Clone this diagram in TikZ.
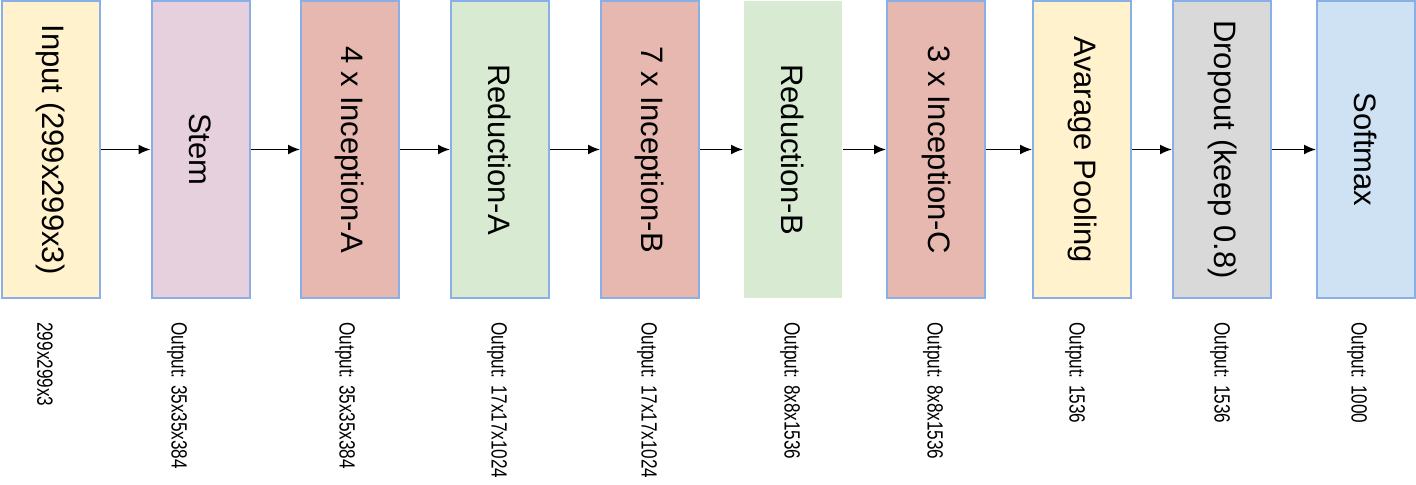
\documentclass[tikz,border=0pt]{standalone}
\usepackage{fontspec}
\setmainfont{Liberation Sans}
\usepackage{tikz}
\usetikzlibrary{arrows.meta}

\definecolor{edgeblue}{HTML}{8AAEE6}
\definecolor{inyellow}{HTML}{FFF2CC}
\definecolor{stempink}{HTML}{E6D0DE}
\definecolor{incred}{HTML}{E6B8AF}
\definecolor{redgreen}{HTML}{D9EAD3}
\definecolor{dropgrey}{HTML}{D9D9D9}
\definecolor{softblue}{HTML}{CFE2F3}

\newcommand{\outtext}[1]{\scalebox{0.78}[1]{#1}}

\begin{document}
\begin{tikzpicture}[x=0.5pt,y=-0.5pt,
        layer/.style={draw=edgeblue,line width=1pt,rectangle,minimum width=49pt,minimum height=148.5pt,
            inner sep=0pt,font=\fontsize{15.5}{18}\selectfont},
        outlabel/.style={rotate=-90,anchor=west,inner sep=0pt,font=\fontsize{11}{13}\selectfont},
        flow/.style={-{Latex[length=6pt,width=5pt]},line width=0.85pt}]

    \useasboundingbox (0,0) rectangle (1416,485);

    % layers
    \node[layer,fill=inyellow] (input) at (51,149.5) {\rotatebox{-90}{Input (299x299x3)}};
    \node[layer,fill=stempink] (stem) at (200.5,149.5) {\rotatebox{-90}{Stem}};
    \node[layer,fill=incred] (incA) at (350,149.5) {\rotatebox{-90}{4 x Inception-A}};
    \node[layer,fill=redgreen] (redA) at (500,149.5) {\rotatebox{-90}{Reduction-A}};
    \node[layer,fill=incred] (incB) at (650,149.5) {\rotatebox{-90}{7 x Inception-B}};
    \node[layer,fill=redgreen,draw=none] (redB) at (793,149.5) {\rotatebox{-90}{Reduction-B}};
    \node[layer,fill=incred] (incC) at (936,149.5) {\rotatebox{-90}{3 x Inception-C}};
    \node[layer,fill=inyellow] (pool) at (1082,149.5) {\rotatebox{-90}{Avarage Pooling}};
    \node[layer,fill=dropgrey] (drop) at (1222,149.5) {\rotatebox{-90}{Dropout (keep 0.8)}};
    \node[layer,fill=softblue] (soft) at (1366,149.5) {\rotatebox{-90}{Softmax}};

    % connections
    \draw[flow] (input) -- (stem);
    \draw[flow] (stem) -- (incA);
    \draw[flow] (incA) -- (redA);
    \draw[flow] (redA) -- (incB);
    \draw[flow] (incB) -- (redB);
    \draw[flow] (redB) -- (incC);
    \draw[flow] (incC) -- (pool);
    \draw[flow] (pool) -- (drop);
    \draw[flow] (drop) -- (soft);

    % output sizes
    \node[outlabel] (oinput) at (45,322) {\outtext{299x299x3}};
    \node[outlabel] (ostem) at (177,322) {\outtext{Output: 35x35x384}};
    \node[outlabel] (oincA) at (345,322) {\outtext{Output: 35x35x384}};
    \node[outlabel] (oredA) at (497,322) {\outtext{Output: 17x17x1024}};
    \node[outlabel] (oincB) at (647,322) {\outtext{Output: 17x17x1024}};
    \node[outlabel] (oredB) at (790,322) {\outtext{Output: 8x8x1536}};
    \node[outlabel] (oincC) at (933,322) {\outtext{Output: 8x8x1536}};
    \node[outlabel] (opool) at (1075,322) {\outtext{Output: 1536}};
    \node[outlabel] (odrop) at (1220,322) {\outtext{Output: 1536}};
    \node[outlabel] (osoft) at (1357,322) {\outtext{Output: 1000}};
\end{tikzpicture}
\end{document}
